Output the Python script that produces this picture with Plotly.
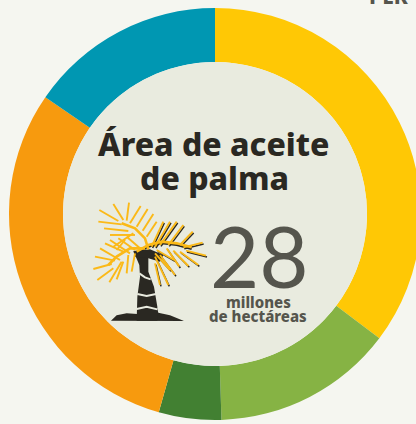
import plotly.graph_objects as go

# Data
categories = ["Amarillo", "Verde claro", "Verde oscuro", "Naranja", "Azul"]
values = [35.3, 14.2, 4.9, 30.2, 15.4]
colors = ["#FFC805", "#86B344", "#428032", "#F79A0E", "#0097B2"]

W, H = 430, 424
CX, CY, R_OUT, R_IN = 215, 214, 206, 152
BG, DISC, DARK, GREY = "#F5F6F0", "#E9EBDF", "#2A2822", "#55554D"
YEL = "#FBB917"

def px(x, y):
    return x / W, 1 - y / H

def z(x, y):  # icon sketch coordinates -> page pixels
    return 80 + x / 3, 190 + y / 3

def path(points, close=False):
    out = []
    for i, (x, y) in enumerate(points):
        a, b = px(*z(x, y))
        out.append(f"{'M' if i == 0 else 'L'}{a:.4f},{b:.4f}")
    return " ".join(out) + (" Z" if close else "")

shapes = []
def line(points, color, width):
    shapes.append(dict(type="path", xref="paper", yref="paper", path=path(points),
                       line=dict(color=color, width=width), layer="above"))
def fill(points, color):
    shapes.append(dict(type="path", xref="paper", yref="paper", path=path(points, True),
                       fillcolor=color, line=dict(width=0), layer="above"))

x0, y1 = px(CX - R_IN, CY - R_IN)
x1, y0 = px(CX + R_IN, CY + R_IN)
shapes.append(dict(type="circle", xref="paper", yref="paper", x0=x0, x1=x1, y0=y0, y1=y1,
                   fillcolor=DISC, line=dict(width=0), layer="above"))

# Palm icon: ground, trunk and crown
fill([(93,392),(110,376),(140,370),(172,372),(172,358),(232,358),(235,368),(270,376),(312,393)], DARK)
fill([(163,190),(205,190),(205,245),(222,290),(232,350),(232,392),(170,392),(172,320),(180,260),(178,225)], DARK)
fill([(160,183),(210,178),(250,195),(240,215),(205,205),(165,200)], DARK)
for band in ([(172,312),(200,318),(228,312)], [(170,357),(200,350),(232,358)], [(178,250),(195,262),(212,268)]):
    line(band, DISC, 2)

right = [[(270,95),(225,170)],[(250,95),(215,170)],[(290,95),(240,165)],[(310,105),(265,165)],
         [(338,125),(300,165)],[(368,158),(310,172)],[(378,197),(318,182)],[(355,225),(300,185)],
         [(325,228),(280,182)],[(298,230),(260,175)],[(285,255),(240,195)],[(265,285),(225,200)],
         [(240,285),(225,220)],[(282,210),(230,180)],[(270,240),(225,190)]]
left = [[(58,60),(115,93)],[(100,42),(130,90)],[(147,38),(140,92)],[(182,48),(150,100)],[(203,57),(170,110)],
        [(220,72),(188,122)],[(230,95),(200,140)],[(55,95),(125,103)],[(72,115),(145,123)],[(90,135),(165,135)],
        [(60,175),(120,210)],[(45,200),(105,212)],[(40,237),(95,222)],[(52,270),(100,235)],[(88,277),(125,215)],
        [(110,268),(130,215)],[(140,250),(145,195)],[(155,245),(165,190)],[(90,150),(150,190)],[(115,145),(165,180)],
        [(140,140),(180,175)],[(75,160),(130,185)],[(160,130),(100,170)],[(135,150),(110,180)]]
arch_l = [(125,100),(165,115),(195,145),(205,178)]
arch_m = [(195,175),(150,175),(110,200),(85,225)]
arch_r = [(170,185),(205,165),(245,155),(290,160),(335,172)]
for seg in right:
    line([(a + 3, b + 4) for a, b in seg], DARK, 1.5)
line([(a, b + 5) for a, b in arch_r], DARK, 2)
for seg in right + left:
    line(seg, YEL, 1.9)
for arch in (arch_l, arch_m, arch_r):
    line(arch, YEL, 2.6)

def note(text, x, y, size, color, family, anchor="center", yanchor="middle", weight=None):
    a, b = px(x, y)
    font = dict(size=size, color=color, family=family)
    if weight:
        font["weight"] = weight
    return dict(text=text, x=a, y=b, xref="paper", yref="paper", showarrow=False, xanchor=anchor,
                yanchor=yanchor, font=font)

SANS = "Noto Sans"
annotations = [
    note("Área de aceite", 214, 143, 32, DARK, SANS, weight=800),
    note("de palma", 214, 178, 32, DARK, SANS, weight=800),
    note("28", 259, 255, 85, GREY, "Lato"),
    note("millones", 258, 302, 15, GREY, SANS, weight=800),
    note("de hectáreas", 258, 316, 15, GREY, SANS, weight=800),
    note("PER", 367, 12, 21, GREY, SANS, "left", "bottom", weight=800),
]

fig = go.Figure(go.Pie(
    labels=categories, values=values, sort=False, direction="clockwise", rotation=0,
    hole=R_IN / R_OUT, textinfo="none", hoverinfo="skip", showlegend=False,
    marker=dict(colors=colors, line=dict(width=0)),
    domain=dict(x=[0, 1], y=[(H - CY - R_OUT) / H, (H - CY + R_OUT) / H]),
))
fig.update_layout(width=W, height=H, autosize=False, margin=dict(l=0, r=0, t=0, b=0),
                  paper_bgcolor=BG, plot_bgcolor=BG, shapes=shapes, annotations=annotations)
fig.write_html("out.html", config=dict(displayModeBar=False, responsive=False),
               post_script=f"document.documentElement.style.overflow='hidden';document.documentElement.style.background='{BG}';document.body.style.margin='0';document.body.style.overflow='hidden';")
